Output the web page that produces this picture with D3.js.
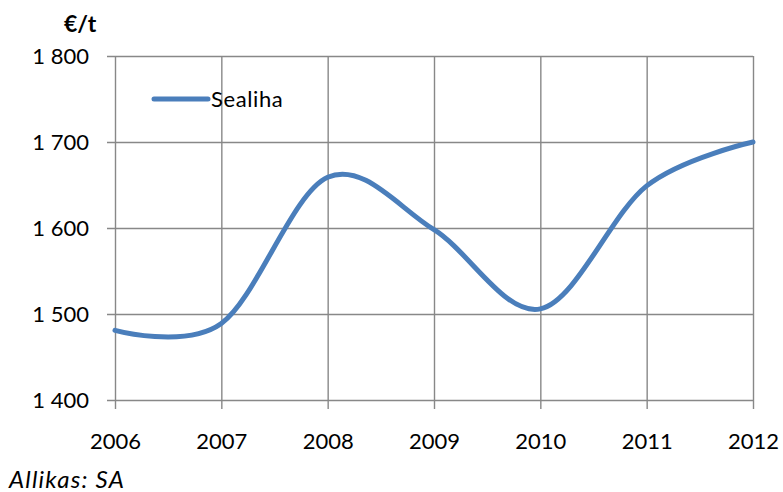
<!DOCTYPE html>
<html>
<head>
<meta charset="utf-8">
<script src="https://cdn.jsdelivr.net/npm/d3@7"></script>
<style>
  body { margin: 0; background: #fff; }
  text { font-family: Lato, "Open Sans", sans-serif; fill: #000; }
</style>
</head>
<body>
<div id="chart"></div>
<script>
// data
const years = [2006, 2007, 2008, 2009, 2010, 2011, 2012];
const sealiha = [1481, 1489, 1659, 1598, 1506, 1649, 1700];
const yTicks = [1400, 1500, 1600, 1700, 1800];
const seriesName = "Sealiha";
const unitLabel = "€/t";
const sourceLabel = "Allikas: SA";

// dimensions
let width = 783, height = 492;
let margin = {top: 56, right: 30, bottom: 92, left: 115};
let plotW = 753 - margin.left,
    plotH = 400 - margin.top;

let svg = d3.select("#chart")
  .append("svg")
    .attr("width", width)
    .attr("height", height);

let g = svg.append("g")
  .attr("transform", "translate(" + margin.left + "," + margin.top + ")");

let x = d3.scaleLinear()
  .domain([d3.min(years), d3.max(years)])
  .range([0, plotW]);

let y = d3.scaleLinear()
  .domain([1400, 1800])
  .range([plotH, 0]);

const gridColor = "#888888";
const fmt = d => d3.format(",")(d).replace(",", " ");

// horizontal grid + y ticks
let yAxis = g.append("g")
  .call(d3.axisLeft(y).tickValues(yTicks).tickSize(plotW + 8).tickFormat(fmt).tickPadding(18))
  .attr("transform", "translate(" + plotW + ",0)");
yAxis.select(".domain").remove();
yAxis.selectAll("line").attr("stroke", gridColor).attr("stroke-width", 1.4);
yAxis.selectAll("text").style("font-size", "22px").attr("dy", "0.35em");

// vertical grid + x ticks
let xAxis = g.append("g")
  .call(d3.axisBottom(x).tickValues(years).tickSize(plotH + 9).tickFormat(d3.format("d")).tickPadding(24));
xAxis.select(".domain").remove();
xAxis.selectAll("line").attr("stroke", gridColor).attr("stroke-width", 1.4);
xAxis.selectAll("text").style("font-size", "22px");

// series line (smoothed like the original)
let line = d3.line()
  .x((d, i) => x(years[i]))
  .y(d => y(d))
  .curve(d3.curveCardinal.tension(0));

g.append("path")
  .datum(sealiha)
  .attr("fill", "none")
  .attr("stroke", "#4A7EBB")
  .attr("stroke-width", 5)
  .attr("stroke-linecap", "round")
  .attr("d", line);

// legend
let legend = svg.append("g").attr("transform", "translate(154,99)");
legend.append("line")
  .attr("x1", 0).attr("x2", 54)
  .attr("stroke", "#4A7EBB").attr("stroke-width", 5)
  .attr("stroke-linecap", "round");
legend.append("text")
  .attr("x", 57).attr("y", 8)
  .style("font-size", "22px")
  .style("letter-spacing", "0.6px")
  .text(seriesName);

// unit title
svg.append("text")
  .attr("x", 64).attr("y", 32)
  .style("font-size", "23px")
  .style("font-weight", "bold")
  .text(unitLabel);

// source
svg.append("text")
  .attr("x", 9).attr("y", 488)
  .style("font-size", "24px")
  .style("font-style", "italic")
  .style("letter-spacing", "1.2px")
  .text(sourceLabel);
</script>
</body>
</html>
